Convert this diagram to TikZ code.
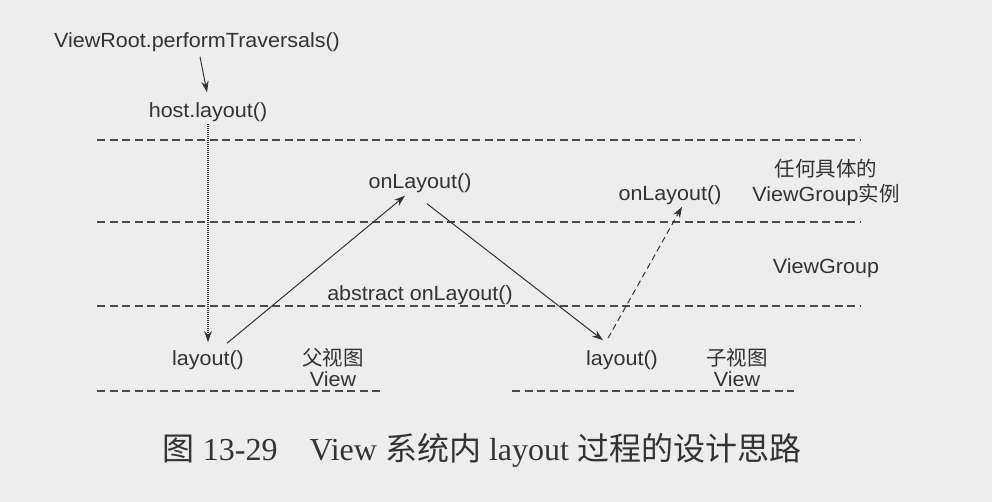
\documentclass[tikz,border=0pt]{standalone}
\usepackage{fontspec}
\setmainfont{Liberation Serif}
\newfontfamily\lab[FakeStretch=1.05]{Liberation Sans}
\newfontfamily\cjk{Noto Sans CJK SC}
\usetikzlibrary{arrows.meta}
\definecolor{bg}{HTML}{EDEDED}
\definecolor{ink}{HTML}{333333}
\definecolor{rule}{HTML}{4A4A4A}
\begin{document}
\begin{tikzpicture}[x=1pt,y=-1pt,
  lbl/.style={text=ink,inner sep=2pt,font=\lab\fontsize{20.5}{25}\selectfont},
  sep/.style={draw=rule,line width=1.1pt,dash pattern=on 8pt off 4.5pt},
  conn/.style={draw=ink,line width=1pt,-{Stealth[length=11pt,width=7.5pt]}},
  dconn/.style={conn,dash pattern=on 6pt off 4pt},
  vconn/.style={conn,densely dotted,line width=1.2pt}]
\fill[bg] (0,0) rectangle (992,502);
\useasboundingbox (0,0) rectangle (992,502);
% separators
\draw[sep] (97,140) -- (860,140);
\draw[sep] (97,222) -- (860,222);
\draw[sep] (97,306) -- (860,306);
\draw[sep] (97,391) -- (380,391);
\draw[sep] (512,391) -- (794,391);
% nodes
\node[lbl] (top) at (197,42) {ViewRoot.performTraversals()};
\node[lbl] (host) at (208,112) {host.layout()};
\node[lbl] (o1) at (420,183) {onLayout()};
\node[lbl] (o2) at (670,195) {onLayout()};
\node[lbl] (abs) at (420,295) {abstract onLayout()};
\node[lbl] (p) at (208,360) {layout()};
\node[lbl] (c) at (622,360) {layout()};
\node[lbl,align=center] (inst) at (826,182) {{\cjk 任何具体的}\\ViewGroup{\cjk 实例}};
\node[lbl] (vg) at (826,268) {ViewGroup};
\node[lbl,align=center,font=\lab\fontsize{20.5}{21}\selectfont] (pv) at (333,368) {{\cjk 父视图}\\View};
\node[lbl,align=center,font=\lab\fontsize{20.5}{21}\selectfont] (cv) at (737,368) {{\cjk 子视图}\\View};
\node[text=ink,inner sep=0pt,font=\fontsize{32}{34}\selectfont] (cap) at (482,450)
  {{\cjk 图} 13-29\hspace{1em}View {\cjk 系统内} layout {\cjk 过程的设计思路}};
% connectors
\draw[conn] ([shift={(3,3)}]top.south) -- ([shift={(-1,-8)}]host.north);
\draw[vconn] (host.south) -- ([shift={(0,-6)}]p.north);
\draw[conn] ([shift={(19,-5)}]p.north) -- ([shift={(-15,1)}]o1.south);
\draw[conn] ([shift={(7,9)}]o1.south) -- ([shift={(-19,-8)}]c.north);
\draw[dconn] ([shift={(-14,-10)}]c.north) -- ([shift={(12,0)}]o2.south);
\end{tikzpicture}
\end{document}
